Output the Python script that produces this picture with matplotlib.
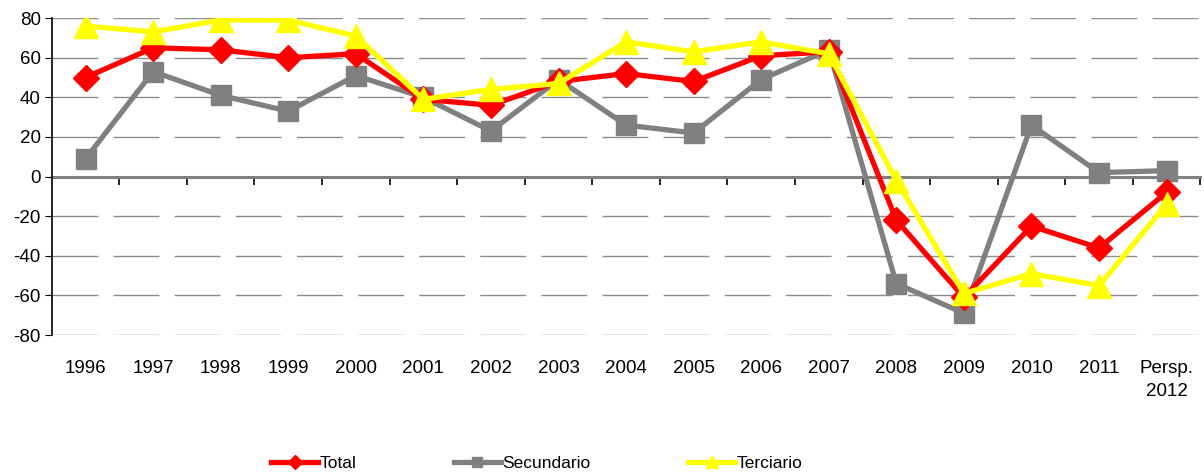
import numpy as np
import matplotlib
matplotlib.use("Agg")
import matplotlib.pyplot as plt

plt.rcParams['font.family'] = ['Liberation Sans', 'DejaVu Sans']
plt.rcParams['axes.unicode_minus'] = False

# data
categories = ["1996", "1997", "1998", "1999", "2000", "2001", "2002", "2003", "2004",
              "2005", "2006", "2007", "2008", "2009", "2010", "2011", "Persp.\n2012"]
total = [50, 65, 64, 60, 62, 39, 36, 48, 52, 48, 61, 63, -22, -61, -25, -36, -8]
secundario = [9, 53, 41, 33, 51, 40, 23, 49, 26, 22, 49, 64, -54, -69, 26, 2, 3]
terciario = [76, 73, 79, 79, 71, 39, 44, 47, 68, 63, 68, 62, -2, -59, -49, -55, -14]

fig = plt.figure(figsize=(12.04, 4.76), dpi=100)
ax = fig.add_axes([0.043, 0.296, 0.954, 0.666])

x = np.arange(len(categories))
ax.plot(x, total, color="#FF0000", lw=3.8, marker="D", ms=13.5, label="Total", zorder=3)
ax.plot(x, secundario, color="#808080", lw=3.8, marker="s", ms=14, label="Secundario", zorder=2)
ax.plot(x, terciario, color="#FFFF00", lw=3.8, marker="^", ms=17, label="Terciario", zorder=4)

ax.set_xlim(-0.5, len(categories) - 0.5)
ax.set_ylim(-80, 80)
ax.set_yticks(np.arange(-80, 81, 20))
ax.tick_params(axis="y", labelsize=13.5, length=5, color="black", pad=3)
ax.yaxis.grid(True, color="#8c8c8c", lw=1.0, linestyle=(0, (33, 11)))
ax.set_axisbelow(True)

ax.set_xticks(x)
ax.set_xticklabels(categories, fontsize=13.5, linespacing=1.45, va="top")
ax.tick_params(axis="x", length=0, pad=18)

for s in ["top", "right", "bottom"]:
    ax.spines[s].set_visible(False)
ax.spines["left"].set_color("black")
ax.spines["left"].set_linewidth(1.2)

# zero line with tick marks between categories
zero = ax.secondary_xaxis(0.5)
zero.set_xticks(np.arange(0.5, len(categories) - 0.4, 1))
zero.set_xticklabels([])
zero.tick_params(length=6, width=1.2, color="black", direction="in")
for s in ["top", "bottom"]:
    zero.spines[s].set_color("#808080")
    zero.spines[s].set_linewidth(2.2)
zero.set_zorder(1)

fig.legend(loc="center", bbox_to_anchor=(0.446, 0.027), ncol=3, frameon=False,
           fontsize=12.5, handlelength=2.7, handletextpad=0.1, columnspacing=5.6,
           markerscale=0.55)

fig.savefig("out.png", dpi=100)
